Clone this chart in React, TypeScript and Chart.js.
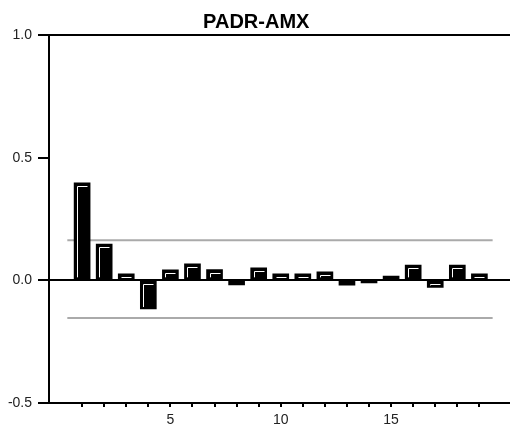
import React, { useEffect, useRef } from "react";
import { Chart, registerables } from "chart.js";

Chart.register(...registerables);

const lags = [1, 2, 3, 4, 5, 6, 7, 8, 9, 10, 11, 12, 13, 14, 15, 16, 17, 18, 19];
const acf = [0.397, 0.148, 0.026, -0.117, 0.043, 0.067, 0.044, -0.019, 0.051, 0.026, 0.026, 0.035, -0.02, -0.011, 0.017, 0.062, -0.029, 0.062, 0.026];
const bandX = [0.33, 19.6];
const upperBand = [0.163, 0.163];
const lowerBand = [-0.154, -0.154];
const yTicks = [-0.5, 0, 0.5, 1.0];
const xLabelTicks = [5, 10, 15];
const title = "PADR-AMX";

const FONT = "'Liberation Sans', Arial, sans-serif";

const highlightPlugin = {
  id: "barHighlight",
  afterDatasetsDraw(chart: any) {
    const meta = chart.getDatasetMeta(0);
    const ctx = chart.ctx;
    ctx.save();
    ctx.strokeStyle = "#ffffff";
    ctx.lineWidth = 1;
    meta.data.forEach((el: any) => {
      const p = el.getProps(["x", "y", "base", "width"], true);
      const left = p.x - p.width / 2;
      const right = p.x + p.width / 2;
      const top = Math.min(p.y, p.base);
      const bottom = Math.max(p.y, p.base);
      if (bottom - top < 4.4) return;
      ctx.beginPath();
      ctx.moveTo(Math.round(left) + 3.5, Math.max(Math.round(top) + 3.5, bottom - 2));
      ctx.lineTo(Math.round(left) + 3.5, Math.round(top) + 3.5);
      ctx.lineTo(Math.round(right) - 2.5, Math.round(top) + 3.5);
      ctx.stroke();
    });
    ctx.restore();
  },
};

export default function App() {
  const ref = useRef<HTMLCanvasElement | null>(null);
  useEffect(() => {
    if (!ref.current) return;
    const chart = new Chart(ref.current, {
      type: "bar",
      data: {
        datasets: [
          {
            type: "bar",
            data: lags.map((l, i) => ({ x: l, y: acf[i] })),
            backgroundColor: "#000000",
            borderColor: "#000000",
            borderWidth: 0,
            barThickness: 16,
            order: 1,
          } as any,
          {
            type: "line",
            data: bandX.map((x, i) => ({ x, y: upperBand[i] })),
            borderColor: "#aaaaaa",
            borderWidth: 2,
            pointRadius: 0,
            order: 2,
          } as any,
          {
            type: "line",
            data: bandX.map((x, i) => ({ x, y: lowerBand[i] })),
            borderColor: "#aaaaaa",
            borderWidth: 2,
            pointRadius: 0,
            order: 2,
          } as any,
        ],
      },
      options: {
        animation: false,
        responsive: false,
        layout: { padding: { left: 0, right: 7.5, top: 0, bottom: 0 } },
        plugins: {
          legend: { display: false },
          tooltip: { enabled: false },
          title: {
            display: true,
            text: title,
            color: "#000000",
            font: { family: FONT, size: 20, weight: "bold" },
            padding: { top: 10, bottom: 1 },
          },
        },
        scales: {
          x: {
            type: "linear",
            min: -0.5,
            max: 20.5,
            offset: false,
            afterBuildTicks: (scale: any) => {
              scale.ticks = lags.map((v) => ({ value: v }));
            },
            afterFit: (scale: any) => {
              scale.height = 24;
            },
            ticks: {
              autoSkip: false,
              maxRotation: 0,
              padding: 5,
              color: "#222222",
              font: { family: FONT, size: 14 },
              callback: (v: any) => (xLabelTicks.includes(Number(v)) ? String(v) : ""),
            },
            grid: {
              offset: false,
              drawOnChartArea: false,
              drawTicks: true,
              tickLength: 4,
              tickColor: "#000000",
              lineWidth: 2,
            },
            border: { display: true, color: "#000000", width: 2 },
          },
          y: {
            type: "linear",
            min: -0.5,
            max: 1.0,
            afterBuildTicks: (scale: any) => {
              scale.ticks = yTicks.map((v) => ({ value: v }));
            },
            afterFit: (scale: any) => {
              scale.width = 49;
            },
            ticks: {
              padding: 6,
              color: "#222222",
              font: { family: FONT, size: 14 },
              callback: (v: any) => Number(v).toFixed(1),
            },
            grid: {
              drawTicks: true,
              tickLength: 11,
              tickColor: "#000000",
              lineWidth: 2,
              color: (c: any) =>
                c.tick && (c.tick.value === 1 || c.tick.value === 0 || c.tick.value === -0.5)
                  ? "#000000"
                  : "rgba(0,0,0,0)",
            },
            border: { display: true, color: "#000000", width: 2 },
          },
        },
      } as any,
      plugins: [highlightPlugin],
    });
    return () => chart.destroy();
  }, []);
  return (
    <div style={{ position: "absolute", left: 0, top: 0, width: 510, height: 427, overflow: "hidden", background: "#fff" }}>
      <canvas ref={ref} width={520} height={427} style={{ width: 520, height: 427, display: "block" }} />
    </div>
  );
}
